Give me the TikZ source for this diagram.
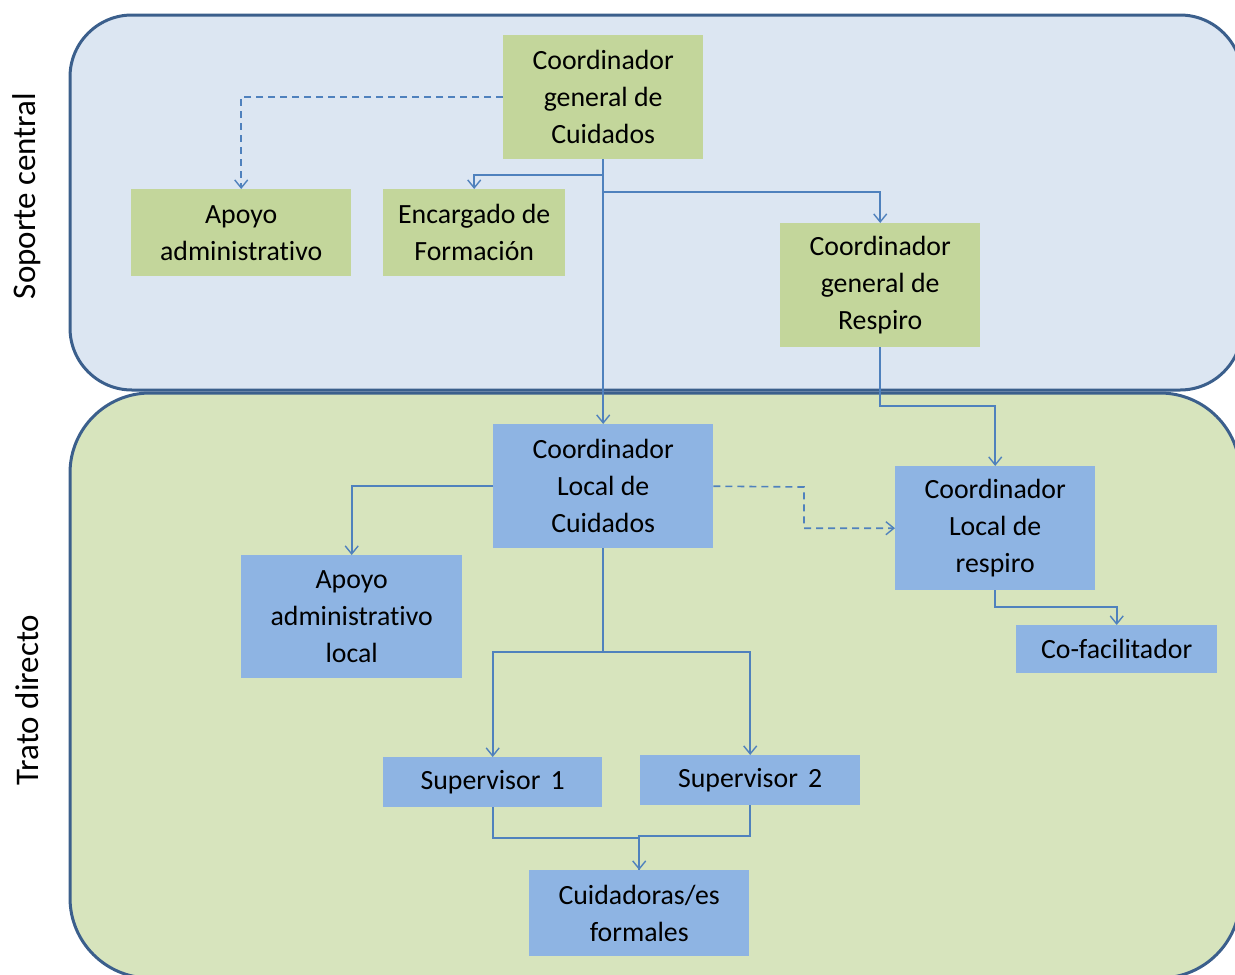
\documentclass[tikz,border=0pt]{standalone}
\usepackage{fontspec}
\setmainfont{Carlito}[Ligatures=NoCommon]
\usetikzlibrary{arrows.meta,calc}
\definecolor{topfill}{HTML}{DCE6F2}
\definecolor{botfill}{HTML}{D7E4BD}
\definecolor{regborder}{HTML}{3B5F8C}
\definecolor{gbox}{HTML}{C3D69B}
\definecolor{bbox}{HTML}{8EB4E3}
\definecolor{conn}{HTML}{4F81BD}
\tikzset{
  region/.style={draw=regborder, line width=3pt},
  boxbase/.style={draw=none, align=center, inner sep=0pt, anchor=north west,
    font=\fontsize{27.8}{37}\selectfont},
  greenbox/.style={boxbase, fill=gbox},
  bluebox/.style={boxbase, fill=bbox},
  arr/.style={draw=conn, line width=1.6pt, -{Straight Barb[length=8pt,width=13pt,line width=1.4pt]}},
  ln/.style={draw=conn, line width=1.6pt},
  dsh/.style={dash pattern=on 7pt off 5pt},
  sidelabel/.style={rotate=90, font=\fontsize{33}{40}\selectfont}
}
\begin{document}
\begin{tikzpicture}[x=1pt,y=-1pt]
\useasboundingbox (0,0) rectangle (1235,975);
\clip (0,0) rectangle (1235,975);
\draw[region, fill=topfill, rounded corners=62pt] (70,15) rectangle (1242,390);
\draw[region, fill=botfill, rounded corners=80pt] (70,393) rectangle (1240,978);
\node[sidelabel] (sc) at (27,196) {Soporte central};
\node[sidelabel] (td) at (27,700) {Trato directo};
% boxes
\node[greenbox, minimum width=200pt, minimum height=124pt] (cg) at (503,35) {Coordinador\\general de\\Cuidados};
\node[greenbox, minimum width=220pt, minimum height=87pt] (aa) at (131,189) {Apoyo\\administrativo};
\node[greenbox, minimum width=182pt, minimum height=87pt] (ef) at (383,189) {Encargado de\\Formación};
\node[greenbox, minimum width=200pt, minimum height=124pt] (cr) at (780,223) {Coordinador\\general de\\Respiro};
\node[bluebox, minimum width=220pt, minimum height=124pt] (cl) at (493,424) {Coordinador\\Local de\\Cuidados};
\node[bluebox, minimum width=221pt, minimum height=123pt] (al) at (241,555) {Apoyo\\administrativo\\local};
\node[bluebox, minimum width=200pt, minimum height=124pt] (lr) at (895,466) {Coordinador\\Local de\\respiro};
\node[bluebox, minimum width=201pt, minimum height=48pt] (cf) at (1016,625) {Co-facilitador};
\node[bluebox, minimum width=219pt, minimum height=50pt] (s1) at (383,757) {Supervisor\hspace{4pt} 1};
\node[bluebox, minimum width=220pt, minimum height=50pt] (s2) at (640,755) {Supervisor\hspace{4pt} 2};
\node[bluebox, minimum width=220pt, minimum height=86pt] (cu) at (529,870) {Cuidadoras/es\\formales};
% connectors
\draw[arr, dsh] (cg.west) -| (aa.north);
\draw[arr] (cg.south) -- (cg.south |- 0,175) -| (ef.north);
\draw[arr] (cg.south) -- (cg.south |- 0,192) -| (cr.north);
\draw[arr] (cg.south) -- (cl.north);
\draw[arr] (cr.south) -- (cr.south |- 0,406) -| (lr.north);
\draw[arr] (cl.west) -| (al.north);
\draw[arr, dsh] (cl.east) -- (804,487) coordinate (dk) |- (lr.west);
\draw[ln] (cl.south) -- (cl.south |- 0,652) coordinate (sp);
\draw[arr] (sp) -| (s1.north);
\draw[arr] (sp) -| (s2.north);
\draw[arr] (lr.south) -- (lr.south |- 0,607) -| (cf.north);
\draw[ln] (s1.south) -- (s1.south |- 0,838) -| (cu.north);
\draw[arr] (s2.south) -- (s2.south |- 0,836) -| (cu.north);
\end{tikzpicture}
\end{document}
